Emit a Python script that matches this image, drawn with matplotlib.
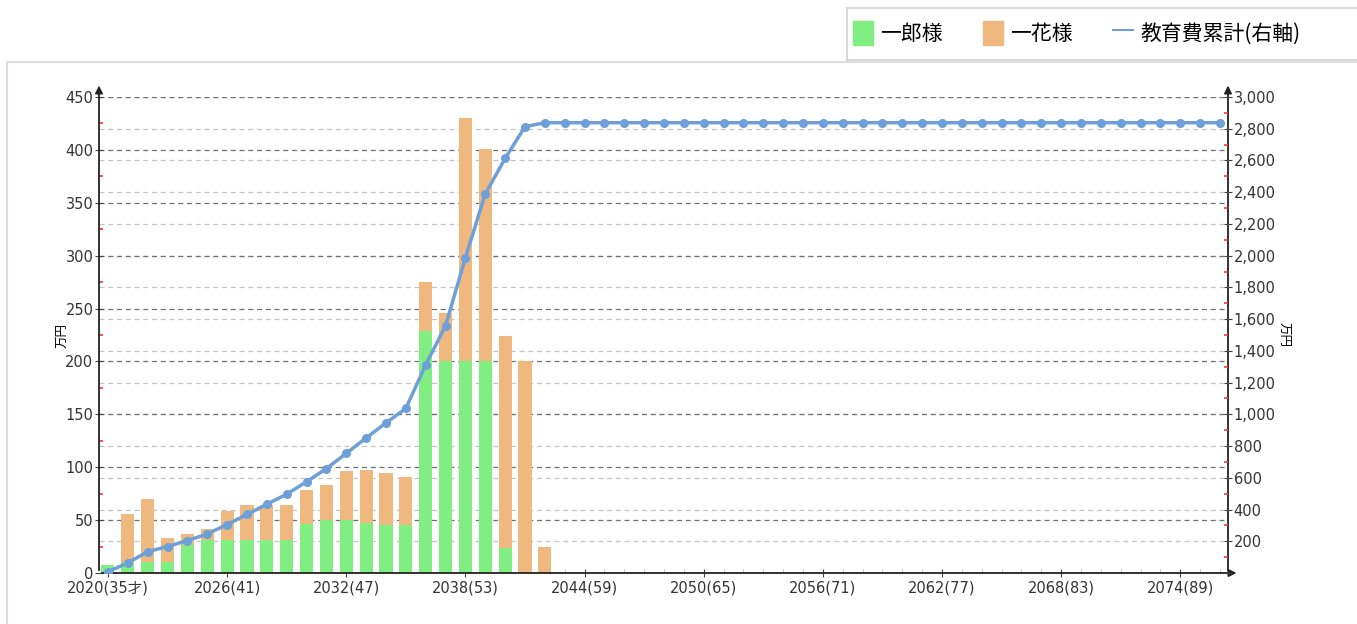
import numpy as np
import matplotlib.pyplot as plt
from matplotlib.patches import Rectangle
from matplotlib.lines import Line2D
from matplotlib.ticker import MultipleLocator

plt.rcParams['font.family'] = ['DejaVu Sans', 'Noto Sans CJK JP']

# data (万円), 2020 .. 2042; later years are zero
bar_years = np.arange(2020, 2043)
ichiro = [8, 10, 10, 10, 26, 31, 31, 31, 31, 31, 46, 50, 50, 47, 45, 45,
          229, 200, 200, 200, 24, 0, 0]
ichika = [0, 46, 60, 23, 11, 11, 28, 33, 33, 33, 32, 33, 46, 50, 50, 46,
          46, 46, 230, 201, 200, 200, 25]
years = np.arange(2020, 2077)
birth_year = 1985

green = '#80ee80'
orange = '#eeb87e'
blue = '#6f9fd8'

total = np.zeros(len(years))
total[:len(bar_years)] = np.array(ichiro) + np.array(ichika)
cumulative = np.cumsum(total)

fig = plt.figure(figsize=(13.57, 6.24), dpi=100)

# outer frame and legend box
fig.patches.append(Rectangle((7 / 1357, -0.1), 1.1, (624 - 62) / 624 + 0.1,
                             transform=fig.transFigure, fill=False,
                             edgecolor='#dddddd', linewidth=1.5))
fig.patches.append(Rectangle((847 / 1357, 1 - 60 / 624), 0.5, 52 / 624,
                             transform=fig.transFigure, facecolor='white',
                             edgecolor='#d8d8d8', linewidth=1.5, zorder=5))

ax = fig.add_axes([99 / 1357, 1 - 573 / 624, (1228 - 99) / 1357, 476 / 624])
ax2 = ax.twinx()

ax.set_xlim(2019.55, 2076.4)
ax.set_ylim(0, 450)
ax2.set_ylim(0, 3000)

# grids (both drawn on the left axes, under the bars)
for v in np.arange(200, 3001, 200):
    ax.axhline(v * 450 / 3000, color='#c4c4c4', linestyle=(0, (4, 3)), linewidth=0.9, zorder=1)
for v in np.arange(50, 451, 50):
    ax.axhline(v, color='#707070', linestyle=(0, (4, 3)), linewidth=0.9, zorder=1)

ax.bar(bar_years, ichiro, width=0.66, color=green, zorder=3)
ax.bar(bar_years, ichika, width=0.66, bottom=ichiro, color=orange, zorder=3)
ax2.plot(years, cumulative, color=blue, linewidth=2.5, marker='o',
         markersize=5.5, zorder=4)

for a in (ax, ax2):
    for s in a.spines.values():
        s.set_visible(False)

# ticks
xt = np.arange(2020, 2077, 6)
xl = [f'{y}({y - birth_year}才)' if y == 2020 else f'{y}({y - birth_year})' for y in xt]
ax.set_xticks(xt)
ax.set_xticklabels(xl, fontsize=10.5, color='#333333')
ax.xaxis.set_minor_locator(MultipleLocator(1))
ax.tick_params(axis='x', which='major', direction='inout', length=6, color='#444444', pad=2.5)
ax.tick_params(axis='x', which='minor', direction='in', length=3, color='#bbbbbb')

ax.set_yticks(np.arange(0, 451, 50))
ax.yaxis.set_minor_locator(MultipleLocator(25))
ax.tick_params(axis='y', which='major', direction='inout', length=6, color='#444444',
               labelsize=10.5, labelcolor='#333333', pad=1)
ax.tick_params(axis='y', which='minor', direction='in', length=3, color='#ff3333', width=1.2)

ax2.set_yticks(np.arange(0, 3001, 200))
ax2.set_yticklabels([''] + [f'{v:,}' for v in range(200, 3001, 200)])
ax2.yaxis.set_minor_locator(MultipleLocator(100))
ax2.tick_params(axis='y', which='major', direction='inout', length=6, color='#444444',
                labelsize=10.5, labelcolor='#333333', pad=1)
ax2.tick_params(axis='y', which='minor', direction='in', length=3, color='#ff3333', width=1.2)

ax.set_ylabel('万円', family=['Noto Sans CJK JP'], fontsize=9, labelpad=-3)
ax2.set_ylabel('万円', family=['Noto Sans CJK JP'], fontsize=9, rotation=270, labelpad=10)

# axis lines with arrows
arrow = dict(arrowstyle='-|>', color='#222222', lw=1.3, mutation_scale=11)
ax.annotate('', xy=(0, 1.03), xytext=(0, 0), xycoords='axes fraction',
            arrowprops=arrow, annotation_clip=False)
ax.annotate('', xy=(1, 1.03), xytext=(1, 0), xycoords='axes fraction',
            arrowprops=arrow, annotation_clip=False)
ax.annotate('', xy=(1.01, 0), xytext=(0, 0), xycoords='axes fraction',
            arrowprops=arrow, annotation_clip=False)

# legend
handles = [Rectangle((0, 0), 1, 1, color=green),
           Rectangle((0, 0), 1, 1, color=orange),
           Line2D([0], [0], color=blue, linewidth=1.5)]
fig.legend(handles, ['一郎様', '一花様', '教育費累計(右軸)'],
           loc='center left', bbox_to_anchor=(834 / 1357, 1 - 33 / 624),
           ncol=3, frameon=False, prop={'family': ['Noto Sans CJK JP'], 'size': 15},
           handlelength=0.95, handleheight=1.45, columnspacing=1.95, handletextpad=0.35)

fig.savefig('out.png', dpi=100)
